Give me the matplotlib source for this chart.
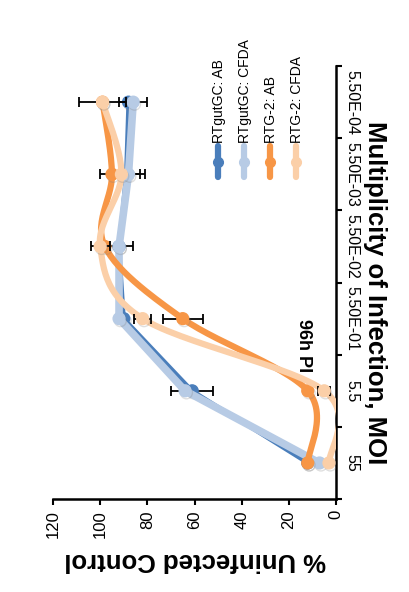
import numpy as np
import matplotlib
matplotlib.use("Agg")
import matplotlib.pyplot as plt
import matplotlib.patheffects as pe
from matplotlib.lines import Line2D

plt.rcParams['font.family'] = ['Liberation Sans', 'DejaVu Sans']

# MOI dilutions (category axis) and % of uninfected control at 96h PI
moi = ["55", "5.5", "5.50E-01", "5.50E-02", "5.50E-03", "5.50E-04"]

gut_ab = [12, 61, 90, 92, 89, 88]
gut_ab_err = [0, 9, 0, 6, 6, 0]
gut_cfda = [7, 64, 92, 92, 88, 86]
gut_cfda_err = [0, 0, 0, 0, 7, 6]
rtg_ab = [12, 12, 65, 98, 95, 99]
rtg_ab_err = [0, 0, 8.5, 0, 5, 0]
rtg_cfda = [3, 5, 82, 100, 91, 99]
rtg_cfda_err = [0, 2.5, 3.5, 4, 0, 10]

labels = ["RTgutGC: AB", "RTgutGC: CFDA", "RTG-2: AB", "RTG-2: CFDA"]
colors = ["#4a7ebb", "#b7cbe5", "#f79646", "#fbcfa8"]


def smooth(xs, ys, n=30):
    # Catmull-Rom spline through the points, like a smoothed line in a spreadsheet chart
    p = np.column_stack([xs, ys]).astype(float)
    p = np.vstack([p[0], p, p[-1]])
    out = []
    t = np.linspace(0, 1, n)[:, None]
    for i in range(1, len(p) - 2):
        p0, p1, p2, p3 = p[i - 1], p[i], p[i + 1], p[i + 2]
        seg = 0.5 * ((2 * p1) + (-p0 + p2) * t + (2 * p0 - 5 * p1 + 4 * p2 - p3) * t ** 2
                     + (-p0 + 3 * p1 - 3 * p2 + p3) * t ** 3)
        out.append(seg if i == 1 else seg[1:])
    out = np.vstack(out)
    return out[:, 0], out[:, 1]


fig = plt.figure(figsize=(4.09, 5.92), dpi=100)
ax = fig.add_axes([0.1296, 0.157, 0.692, 0.7314])

pos = np.arange(len(moi))
series = [
    (gut_ab, gut_ab_err, False, 3.0),
    (gut_cfda, gut_cfda_err, False, 5.5),
    (rtg_ab, rtg_ab_err, True, 4.5),
    (rtg_cfda, rtg_cfda_err, True, 4.5),
]

shadow = [pe.SimpleLineShadow(offset=(1, -1.5), alpha=0.25, shadow_color='gray'), pe.Normal()]

for k, (vals, errs, smoothed, lw) in enumerate(series):
    z = 3 + k
    if smoothed:
        sx, sy = smooth(vals, pos)
        ax.plot(sx, sy, color=colors[k], lw=lw, solid_capstyle='round', zorder=z)
    else:
        ax.plot(vals, pos, color=colors[k], lw=lw, solid_capstyle='round', zorder=z)
    idx = [i for i, e in enumerate(errs) if e > 0]
    if idx:
        ax.errorbar([vals[i] for i in idx], [pos[i] for i in idx],
                    xerr=[errs[i] for i in idx], fmt='none', ecolor='black',
                    elinewidth=1.3, capsize=3.5, capthick=1.3, zorder=z)
    ax.plot(vals, pos, 'o', color=colors[k], ms=8.5, zorder=z + 0.5,
            path_effects=shadow)

ax.set_xlim(120, 0)
ax.set_ylim(-0.5, len(moi) - 0.5)

ax.set_xticks(np.arange(0, 121, 20))
ax.set_xticklabels([str(v) for v in range(0, 121, 20)], rotation=90, fontsize=12)

ax.yaxis.tick_right()
ax.set_yticks(np.arange(-0.5, len(moi), 1.0))
ax.set_yticklabels([])
ax.set_yticks(pos, minor=True)
ax.set_yticklabels(moi, minor=True, rotation=-90, fontsize=11.5, va='center')
ax.tick_params(axis='y', which='minor', length=0, pad=6)
ax.tick_params(axis='y', which='major', direction='out', length=4, width=1.5)
ax.tick_params(axis='x', direction='out', length=4, width=1.5, pad=4)

for s in ['left', 'top']:
    ax.spines[s].set_visible(False)
for s in ['bottom', 'right']:
    ax.spines[s].set_linewidth(1.8)

fig.text(0.477, 0.054, "% Uninfected Control", rotation=180, ha='center', va='center',
         fontsize=18.5, fontweight='bold')
fig.text(0.918, 0.505, "Multiplicity of Infection, MOI", rotation=-90, ha='center',
         va='center', fontsize=18.5, fontweight='bold')
fig.text(0.741, 0.417, "96h PI", rotation=-90, ha='center', va='center',
         fontsize=13, fontweight='bold')

# legend drawn by hand so the entries read sideways
leg_x = [218, 244, 270, 296]
for k, lab in enumerate(labels):
    fx = leg_x[k] / 409
    fig.add_artist(Line2D([fx, fx], [1 - 177 / 592, 1 - 146 / 592], color=colors[k],
                          lw=4.5, solid_capstyle='round', transform=fig.transFigure))
    fig.add_artist(Line2D([fx], [1 - 162 / 592], marker='o', ms=7, color=colors[k],
                          transform=fig.transFigure))
    fig.text(fx + 1 / 409, 1 - 143 / 592, lab, rotation=90, ha='center', va='bottom',
             fontsize=10)

fig.savefig("out.png", dpi=100)
